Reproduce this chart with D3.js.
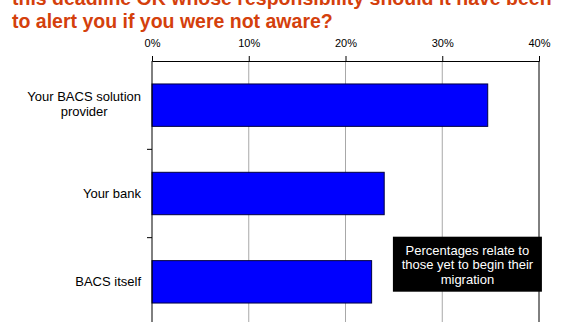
<!DOCTYPE html>
<html>
<head>
<meta charset="utf-8">
<script src="https://cdn.jsdelivr.net/npm/d3@7"></script>
<style>
  body { margin: 0; background: #fff; }
  svg { display: block; font-family: Arial, "Liberation Sans", sans-serif; }
</style>
</head>
<body>
<svg id="svg" width="576" height="322"></svg>
<script>
const categories = ['Your BACS solution|provider', 'Your bank', 'BACS itself']
const values = [34.7, 24.0, 22.7]
const tickValues = [0, 10, 20, 30, 40]
const titleLines = ['this deadline OK whose responsibility should it have been', 'to alert you if you were not aware?']
const noteLines = ['Percentages relate to', 'those yet to begin their', 'migration']

const $svg = d3.select('#svg')

const margin = { left: 152, right: 37, top: 61, bottom: -4 }
const width = 576 - margin.left - margin.right
const height = 322 - margin.top - margin.bottom

// title, clipped at the top like the original slide
const $title = $svg.append('text')
  .attr('fill', '#d4400c')
  .attr('font-size', 19.5)
  .attr('font-weight', 'bold')
titleLines.forEach((line, i) => {
  $title.append('tspan').attr('x', 12).attr('y', 4.5 + i * 23.5).text(line)
})

const $g = $svg.append('g').attr('transform', `translate(${margin.left},${margin.top})`)

const xScale = d3.scaleLinear().domain([0, 40]).range([0, width])
const yScale = d3.scaleBand().domain(categories).range([0, height]).paddingInner(0.52).paddingOuter(0.26)

// gridlines
$g.selectAll('.grid')
  .data(tickValues.slice(1, -1))
  .join('line')
  .attr('x1', d => xScale(d)).attr('x2', d => xScale(d))
  .attr('y1', 0).attr('y2', height)
  .attr('stroke', '#a8a8a8')
  .attr('stroke-width', 1)

// right border
$g.append('line')
  .attr('x1', width).attr('x2', width)
  .attr('y1', 0).attr('y2', height)
  .attr('stroke', '#000')

// bars
$g.selectAll('.bar')
  .data(values)
  .join('rect')
  .attr('x', 0)
  .attr('y', (d, i) => yScale(categories[i]))
  .attr('width', d => xScale(d))
  .attr('height', yScale.bandwidth())
  .attr('fill', '#0000ff')
  .attr('stroke', '#000040')
  .attr('stroke-width', 1)

// top axis
const xAxis = d3.axisTop(xScale)
  .tickValues(tickValues)
  .tickFormat(d => d + '%')
  .tickSize(5)
  .tickPadding(9.5)
const $xAxis = $g.append('g').call(xAxis)
$xAxis.select('.domain').attr('stroke', '#000')
$xAxis.selectAll('text').attr('font-size', 11).attr('fill', '#000').attr('font-family', 'Arial, "Liberation Sans", sans-serif')

// left axis: ticks between categories
const step = yScale.step()
const sepTicks = categories.slice(1).map(c => yScale(c) - yScale.paddingInner() * step / 2)
$g.append('line')
  .attr('x1', 0).attr('x2', 0).attr('y1', 0).attr('y2', height)
  .attr('stroke', '#000')
$g.selectAll('.sep')
  .data(sepTicks)
  .join('line')
  .attr('x1', -5).attr('x2', 0)
  .attr('y1', d => d).attr('y2', d => d)
  .attr('stroke', '#000')

// category labels
categories.forEach(c => {
  const lines = c.split('|')
  const cy = yScale(c) + yScale.bandwidth() / 2
  const $t = $g.append('text')
    .attr('font-size', 13)
    .attr('fill', '#000')
  lines.forEach((line, i) => {
    $t.append('tspan')
      .attr('x', -11)
      .attr('y', cy + 4.5 + (i - (lines.length - 1) / 2) * 15 - (lines.length - 1) * 1.5)
      .attr('text-anchor', 'end')
      .text(line)
  })
  if (lines.length > 1) {
    const w = d3.max($t.selectAll('tspan').nodes(), n => n.getComputedTextLength())
    $t.selectAll('tspan').attr('text-anchor', 'middle').attr('x', -11 - w / 2)
  }
})

// note box
const noteX = xScale(24.9)
const noteY = 175.7
const $note = $g.append('g').attr('transform', `translate(${noteX},${noteY})`)
$note.append('rect')
  .attr('width', 149).attr('height', 55)
  .attr('fill', '#000')
$note.append('text')
  .attr('fill', '#fff')
  .attr('font-size', 13)
  .attr('text-anchor', 'middle')
  .selectAll('tspan')
  .data(noteLines)
  .join('tspan')
  .attr('x', 74.5)
  .attr('y', (d, i) => 18 + i * 14.5)
  .text(d => d)
</script>
</body>
</html>
